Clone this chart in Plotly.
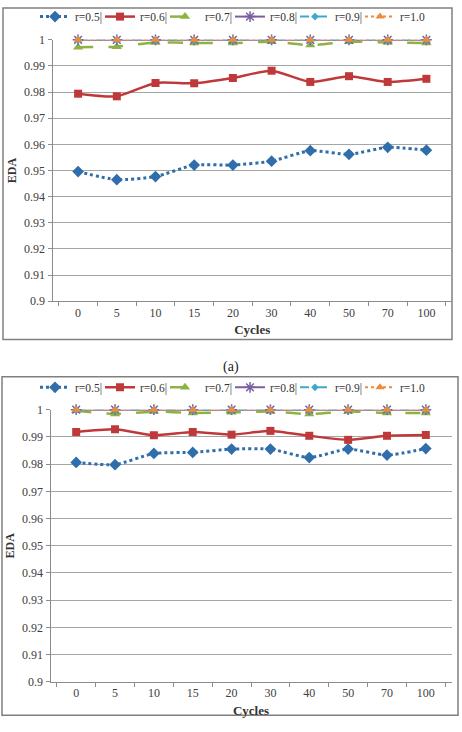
import plotly.graph_objects as go

cycles = ["0", "5", "10", "15", "20", "30", "40", "50", "70", "100"]
series_names = ["r=0.5|", "r=0.6|", "r=0.7|", "r=0.8|", "r=0.9|", "r=1.0|"]

# panel (a)
a_r05 = [0.9496, 0.9465, 0.9477, 0.9521, 0.9521, 0.9536, 0.9576, 0.9562, 0.9589, 0.9578]
a_r06 = [0.9794, 0.9784, 0.9835, 0.9834, 0.9854, 0.9882, 0.9839, 0.9861, 0.9839, 0.9851]
a_r07 = [0.9972, 0.9974, 0.9990, 0.9988, 0.9988, 0.9993, 0.9980, 0.9993, 0.9990, 0.9988]
a_r08 = [1.0] * 10
a_r09 = [1.0] * 10
a_r10 = [1.0] * 10

# panel (b)
b_r05 = [0.9806, 0.9798, 0.9839, 0.9843, 0.9855, 0.9855, 0.9824, 0.9855, 0.9833, 0.9857]
b_r06 = [0.9918, 0.9928, 0.9906, 0.9918, 0.9908, 0.9922, 0.9904, 0.9889, 0.9904, 0.9907]
b_r07 = [0.9996, 0.9984, 0.9993, 0.9988, 0.9990, 0.9993, 0.9984, 0.9993, 0.9988, 0.9988]
b_r08 = [1.0] * 10
b_r09 = [1.0] * 10
b_r10 = [1.0] * 10

y_ticks = [0.9, 0.91, 0.92, 0.93, 0.94, 0.95, 0.96, 0.97, 0.98, 0.99, 1.0]
y_ticktext = ["0.9", "0.91", "0.92", "0.93", "0.94", "0.95", "0.96", "0.97", "0.98", "0.99", "1"]

styles = [
    dict(color="#2F6EAB", dash="dot", width=3, symbol="diamond", size=9),
    dict(color="#C0393A", dash="solid", width=2.5, symbol="square", size=8),
    dict(color="#8DB443", dash="longdash", width=2.5, symbol="triangle-up", size=9),
    dict(color="#7A5FA0", dash="solid", width=2, symbol="asterisk-open", size=9),
    dict(color="#3FA8C8", dash="dash", width=2, symbol="diamond", size=6),
    dict(color="#F08A3A", dash="dot", width=2, symbol="triangle-up", size=8),
]

W, H = 462, 732
FONT = "Liberation Serif, Times New Roman, serif"

fig = go.Figure()

panels = [
    ([a_r05, a_r06, a_r07, a_r08, a_r09, a_r10], "x", "y", "legend"),
    ([b_r05, b_r06, b_r07, b_r08, b_r09, b_r10], "x2", "y2", "legend2"),
]
for data, xa, ya, lg in panels:
    for name, vals, st in zip(series_names, data, styles):
        mline = dict(width=1.5, color=st["color"]) if "open" in st["symbol"] else dict(width=0)
        fig.add_trace(go.Scatter(
            x=cycles, y=vals, name=name, mode="lines+markers",
            xaxis=xa, yaxis=ya, legend=lg, cliponaxis=False,
            line=dict(color=st["color"], dash=st["dash"], width=st["width"], shape="spline", smoothing=0.6),
            marker=dict(symbol=st["symbol"], size=st["size"], color=st["color"], line=mline),
        ))

def px_x(v):
    return v / W

def px_y(v):
    return 1 - v / H

axis_common = dict(
    showline=True, linecolor="#8c8c8c", linewidth=1,
    tickfont=dict(family=FONT, size=12, color="#404040"),
)

legend_common = dict(orientation="h", xanchor="left", yanchor="top",
                     font=dict(family=FONT, size=11.5, color="#333"), itemwidth=30,
                     entrywidth=20, entrywidthmode="pixels", bgcolor="rgba(0,0,0,0)",
                     tracegroupgap=0)

fig.update_layout(
    width=W, height=H, margin=dict(l=0, r=0, t=0, b=0),
    paper_bgcolor="white", plot_bgcolor="white",
    font=dict(family=FONT),
    xaxis=dict(domain=[px_x(52.5), px_x(452)], anchor="y", type="category",
               ticks="outside", ticklen=4, tickcolor="#8c8c8c", tickson="boundaries",
               showgrid=False,
               title=dict(text="<b>Cycles</b>", font=dict(family=FONT, size=13, color="#333"), standoff=6),
               **axis_common),
    yaxis=dict(domain=[px_y(300), px_y(33.5)], anchor="x", range=[0.9, 1.0],
               tickvals=y_ticks, ticktext=y_ticktext, ticks="outside", ticklen=4, tickcolor="#8c8c8c",
               showgrid=True, gridcolor="#a6a6a6", gridwidth=1, zeroline=False,
               title=dict(text="<b>EDA</b>", font=dict(family=FONT, size=12, color="#333"), standoff=4),
               **axis_common),
    xaxis2=dict(domain=[px_x(50.5), px_x(451.5)], anchor="y2", type="category",
                ticks="outside", ticklen=4, tickcolor="#8c8c8c", tickson="boundaries",
                showgrid=False,
                title=dict(text="<b>Cycles</b>", font=dict(family=FONT, size=13, color="#333"), standoff=6),
                **axis_common),
    yaxis2=dict(domain=[px_y(688), px_y(410.5)], anchor="x2", range=[0.9, 1.0],
                tickvals=y_ticks, ticktext=y_ticktext, ticks="outside", ticklen=4, tickcolor="#8c8c8c",
                showgrid=True, gridcolor="#a6a6a6", gridwidth=1, zeroline=False,
                title=dict(text="<b>EDA</b>", font=dict(family=FONT, size=12, color="#333"), standoff=4),
                **axis_common),
    legend=dict(x=px_x(35), y=px_y(-5), **legend_common),
    legend2=dict(x=px_x(35), y=px_y(373), **legend_common),
    showlegend=True,
    shapes=[
        dict(type="rect", xref="paper", yref="paper", x0=px_x(3), x1=px_x(452), y0=px_y(339), y1=px_y(1),
             line=dict(color="#808080", width=1.5), fillcolor="rgba(0,0,0,0)", layer="below"),
        dict(type="rect", xref="paper", yref="paper", x0=px_x(2), x1=px_x(458), y0=px_y(722), y1=px_y(377),
             line=dict(color="#808080", width=1.5), fillcolor="rgba(0,0,0,0)", layer="below"),
    ],
    annotations=[
        dict(text="(a)", xref="paper", yref="paper", x=px_x(231), y=px_y(367),
             showarrow=False, font=dict(family=FONT, size=14, color="#222"), xanchor="center", yanchor="middle"),
    ],
)

fig.write_html("out.html")
